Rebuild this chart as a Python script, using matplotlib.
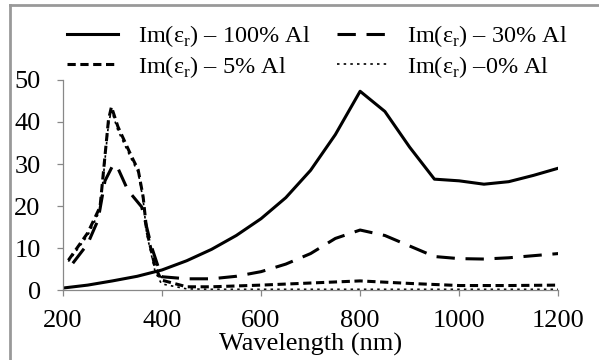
import matplotlib.pyplot as plt
from matplotlib.lines import Line2D

plt.rcParams['font.family'] = ['Liberation Serif', 'DejaVu Serif']
plt.rcParams['mathtext.fontset'] = 'custom'
plt.rcParams['mathtext.rm'] = 'Liberation Serif'

# wavelength grid for each curve (nm) and Im(eps_r) values
wl_100 = [200, 250, 300, 350, 400, 450, 500, 550, 600, 650, 700, 750, 800,
          850, 900, 950, 1000, 1050, 1100, 1150, 1200]
im_100 = [0.5, 1.2, 2.2, 3.3, 4.8, 7.0, 9.7, 13.0, 17.0, 22.0, 28.5, 37.0, 47.3,
          42.5, 34.0, 26.4, 26.0, 25.2, 25.8, 27.3, 29.0]

wl_30 = [220, 250, 271, 285, 300, 308, 331, 359, 379, 399, 450, 500, 550, 600,
         650, 700, 750, 800, 850, 900, 950, 1000, 1050, 1100, 1150, 1200]
im_30 = [6.4, 11.0, 16.7, 26.0, 29.5, 29.8, 23.8, 19.8, 10.3, 3.2, 2.7, 2.7, 3.3, 4.4,
         6.2, 8.7, 12.3, 14.3, 13.0, 10.5, 8.0, 7.5, 7.4, 7.7, 8.2, 8.7]

wl_5 = [211, 250, 275, 292, 298, 311, 339, 352, 362, 369, 386, 399, 450, 500,
        600, 700, 800, 900, 1000, 1100, 1200]
im_5 = [7.1, 13.6, 19.8, 40.5, 43.6, 38.9, 31.7, 28.6, 22.2, 14.3, 5.5, 2.4, 0.8, 0.8,
        1.2, 1.7, 2.2, 1.6, 1.1, 1.1, 1.2]

wl_0 = [211, 250, 275, 292, 298, 311, 339, 352, 362, 369, 386, 399, 450, 500,
        600, 700, 800, 900, 1000, 1100, 1200]
im_0 = [6.8, 13.0, 19.0, 39.5, 42.8, 38.0, 31.0, 28.0, 21.5, 13.5, 4.5, 1.5, 0.3, 0.2,
        0.2, 0.2, 0.2, 0.2, 0.2, 0.2, 0.2]

fig = plt.figure(figsize=(5.99, 3.60), dpi=100)
ax = fig.add_axes([0.105, 0.194, 0.827, 0.584])

l1, = ax.plot(wl_100, im_100, color='black', lw=2.2)
l2, = ax.plot(wl_30, im_30, color='black', lw=2.2, dashes=(6, 3.5))
l3, = ax.plot(wl_5, im_5, color='black', lw=2.2, dashes=(2.7, 1.5))
l4, = ax.plot(wl_0, im_0, color='black', lw=1.2, dashes=(1.5, 2.5))

ax.set_xlim(200, 1200)
ax.set_ylim(0, 50)
ax.set_xticks([200, 400, 600, 800, 1000, 1200])
ax.set_yticks([0, 10, 20, 30, 40, 50])
for s in ['top', 'right']:
    ax.spines[s].set_visible(False)
for s in ['left', 'bottom']:
    ax.spines[s].set_color('#888888')
    ax.spines[s].set_linewidth(0.9)
ax.tick_params(direction='out', length=4, width=0.9, color='#888888', labelsize=19)
ax.tick_params(axis='x', pad=10)
ax.tick_params(axis='y', pad=12)
ax.set_xlabel('Wavelength (nm)', fontsize=19, labelpad=1)

lab = 'Im(ε$_\\mathrm{r}$)'
fig.legend([l1, l3, l2, l4],
           [lab + ' – 100% Al', lab + ' – 5% Al', lab + ' – 30% Al', lab + ' –0% Al'],
           ncol=2, loc='upper left', bbox_to_anchor=(0.112, 0.936), frameon=False,
           fontsize=17.5, handlelength=2.1, handletextpad=0.8, columnspacing=1.1,
           labelspacing=0.2, borderpad=0, borderaxespad=0)

# gray frame around the chart (only top and left show in the crop)
fig.add_artist(Line2D([10 / 599, 1.0], [1 - 5 / 360, 1 - 5 / 360],
                      transform=fig.transFigure, color='#999999', lw=2))
fig.add_artist(Line2D([10 / 599, 10 / 599], [0.0, 1 - 5 / 360],
                      transform=fig.transFigure, color='#999999', lw=2))

fig.savefig('out.png', dpi=100)
